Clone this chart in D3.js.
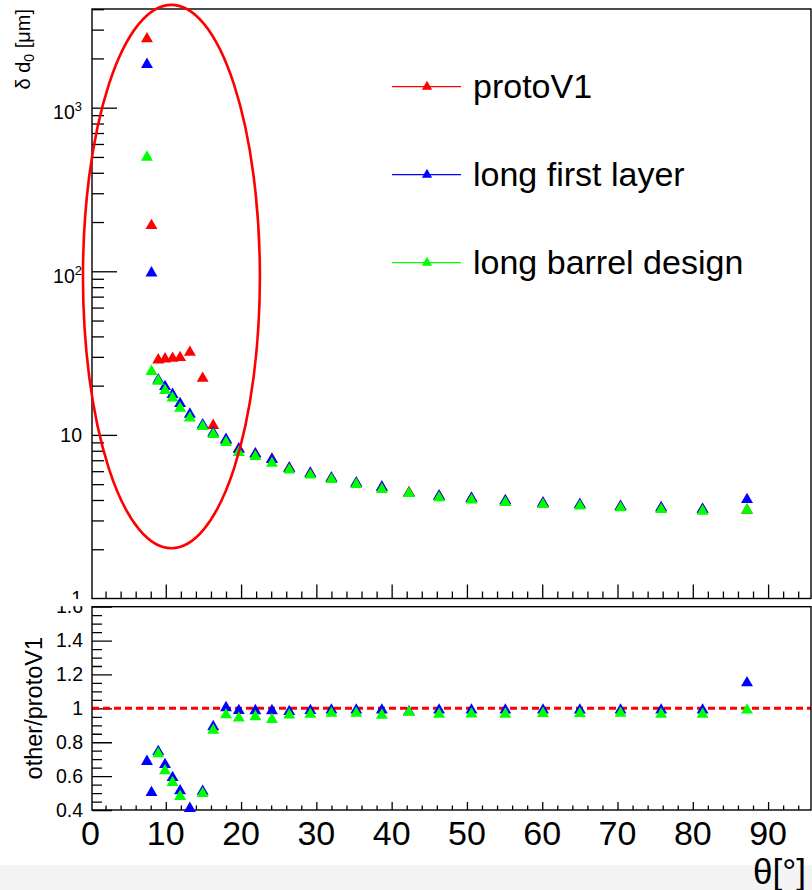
<!DOCTYPE html>
<html>
<head>
<meta charset="utf-8">
<script src="https://cdn.jsdelivr.net/npm/d3@7"></script>
<style>
  body { margin: 0; background: #fff; }
  svg { display: block; font-family: "Liberation Sans", Arial, Helvetica, sans-serif; }
</style>
</head>
<body>
<svg id="chart"></svg>
<script>
// theta bins [deg] and d0 resolution [um] per layout
const theta = [7.5, 8.1, 9.0, 9.9, 10.9, 11.9, 13.2, 14.9, 16.3, 18.0, 19.7, 21.9, 24.1, 26.4,
  29.2, 32.0, 35.3, 38.7, 42.3, 46.3, 50.6, 55.1, 60.1, 65.0, 70.4, 75.8, 81.3, 87.2];
const protoV1 = [2700, 195, 29.4, 29.8, 30.1, 30.4, 32.7, 22.7, 11.7, 9.47, 8.40, 7.85, 7.27, 6.44,
  5.97, 5.58, 5.20, 4.90, 4.55, 4.33, 4.19, 4.05, 3.92, 3.84, 3.74, 3.67, 3.59, 3.55];
const longFirstLayer = [1880, 100, 22.2, 20.2, 18.1, 15.9, 13.7, 11.8, 10.55, 9.6, 8.37, 7.82, 7.24, 6.38,
  5.95, 5.58, 5.20, 4.90, 4.50, 4.33, 4.19, 4.05, 3.92, 3.84, 3.74, 3.67, 3.59, 4.12];
const longBarrelDesign = [510, 25.0, 21.8, 19.1, 17.2, 14.9, 13.0, 11.5, 10.3, 9.2, 8.0, 7.54, 6.86, 6.25,
  5.82, 5.47, 5.10, 4.75, 4.49, 4.22, 4.09, 3.95, 3.84, 3.76, 3.67, 3.58, 3.50, 3.55];

const seriesNames = ["protoV1", "long first layer", "long barrel design"];
const colors = ["#ff0000", "#0000ff", "#00ff00"];

const thetaTicks = [0, 10, 20, 30, 40, 50, 60, 70, 80, 90];
const deltaTicks = [1, 10, 100, 1000];
const ratioTicks = [0.4, 0.6, 0.8, 1, 1.2, 1.4, 1.6];

// red ellipse drawn around the forward region (theta range, d0 range)
const circledTheta = [-1.0, 22.5];
const circledDelta = [2.03, 4250];

const wSvg = 812;
const hSvg = 890;
const frame = { left: 92, right: 811 };
const topPad = { top: 9, bottom: 598.5 };
const lowPad = { top: 606.7, bottom: 810 };

const svg = d3.select("#chart")
  .attr("width", wSvg)
  .attr("height", hSvg);

const defs = svg.append("defs");
defs.append("clipPath").attr("id", "clipTop")
  .append("rect").attr("x", 0).attr("y", 0).attr("width", wSvg).attr("height", topPad.bottom + 0.5);
defs.append("clipPath").attr("id", "clipLow")
  .append("rect").attr("x", 0).attr("y", lowPad.top - 0.5).attr("width", wSvg).attr("height", hSvg - lowPad.top);

// light strip at the bottom of the screenshot
svg.append("rect")
  .attr("x", 0).attr("y", 865).attr("width", wSvg).attr("height", hSvg - 865)
  .attr("fill", "#f4f4f4");

const x = d3.scaleLinear()
  .domain([0.2, 95.7])
  .range([frame.left, frame.right]);

const y = d3.scaleLog()
  .domain([1, 4010])
  .range([topPad.bottom, topPad.top]);

const yRatio = d3.scaleLinear()
  .domain([0.4, 1.6])
  .range([lowPad.bottom, lowPad.top]);

// minor tick values
let xMinor = d3.range(0, 96, 2).filter(v => v % 10 !== 0 && v >= 0.2);
let yMinor = [];
for (let dec of [1, 10, 100, 1000]) {
  for (let k = 2; k <= 9; k++) {
    if (k * dec <= 4010) yMinor.push(k * dec);
  }
}
let rMinor = d3.range(0, 25).map(i => 0.4 + i * 0.05).filter(v => Math.abs(v * 5 - Math.round(v * 5)) > 1e-6);

const gTop = svg.append("g").attr("clip-path", "url(#clipTop)");
const gLow = svg.append("g").attr("clip-path", "url(#clipLow)");

function addAxis(parent, axis, ticks, size, fmt, pad) {
  let g = parent.append("g")
    .attr("color", "#000")
    .call(axis.tickValues(ticks).tickSize(size).tickPadding(pad).tickFormat(fmt));
  g.attr("font-family", null);
  g.select(".domain").remove();
  g.selectAll(".tick line").attr("stroke-width", 1.3);
  return g;
}

// ---- top pad axes
let gx1 = addAxis(gTop, d3.axisBottom(x), thetaTicks.filter(v => v >= 0.2), -14, () => "", 0);
gx1.attr("transform", `translate(0, ${topPad.bottom})`);
let gx1m = addAxis(gTop, d3.axisBottom(x), xMinor, -7, () => "", 0);
gx1m.attr("transform", `translate(0, ${topPad.bottom})`);

let gy1 = addAxis(gTop, d3.axisLeft(y), deltaTicks, -25, d => d, 10);
gy1.attr("transform", `translate(${frame.left}, 0)`).attr("font-size", 19.5);
gy1.selectAll(".tick text").each(function(d) {
  let t = d3.select(this);
  let e = Math.round(Math.log10(d));
  if (e >= 2) {
    t.text("10").attr("dy", "0.55em");
    t.append("tspan").attr("dy", "-0.6em").attr("font-size", 13).text(e);
  }
});
let gy1m = addAxis(gTop, d3.axisLeft(y), yMinor, -12, () => "", 0);
gy1m.attr("transform", `translate(${frame.left}, 0)`);

// ---- lower pad axes
let gx2 = addAxis(gLow, d3.axisBottom(x), thetaTicks.filter(v => v >= 0.2), -8, () => "", 0);
gx2.attr("transform", `translate(0, ${lowPad.bottom})`);
let gx2lab = svg.append("g")
  .attr("transform", `translate(0, ${lowPad.bottom})`)
  .attr("font-size", 34)
  .attr("text-anchor", "middle");
gx2lab.selectAll("text")
  .data(thetaTicks)
  .enter()
  .append("text")
  .attr("x", d => x(d))
  .attr("y", 10.5)
  .attr("dy", "0.71em")
  .text(d => d);
let gx2m = addAxis(gLow, d3.axisBottom(x), xMinor, -4.5, () => "", 0);
gx2m.attr("transform", `translate(0, ${lowPad.bottom})`);

let gy2 = addAxis(gLow, d3.axisLeft(yRatio), ratioTicks, -20, d => d, 9);
gy2.attr("transform", `translate(${frame.left}, 0)`).attr("font-size", 19.5);
let gy2m = addAxis(gLow, d3.axisLeft(yRatio), rMinor, -10, () => "", 0);
gy2m.attr("transform", `translate(${frame.left}, 0)`);

// frames
svg.append("rect")
  .attr("x", frame.left).attr("y", topPad.top)
  .attr("width", frame.right - frame.left).attr("height", topPad.bottom - topPad.top)
  .attr("fill", "none").attr("stroke", "#000").attr("stroke-width", 1.4);
svg.append("rect")
  .attr("x", frame.left).attr("y", lowPad.top)
  .attr("width", frame.right - frame.left).attr("height", lowPad.bottom - lowPad.top)
  .attr("fill", "none").attr("stroke", "#000").attr("stroke-width", 1.4);

// axis titles
svg.append("text")
  .attr("transform", "translate(30, 9) rotate(-90)")
  .attr("text-anchor", "end")
  .attr("font-size", 20)
  .html('δ d<tspan font-size="14" dy="4">0</tspan><tspan dy="-4"> [μm]</tspan>');

svg.append("text")
  .attr("transform", "translate(42, 637) rotate(-90)")
  .attr("text-anchor", "end")
  .attr("font-size", 23.5)
  .text("other/protoV1");

svg.append("text")
  .attr("x", 806)
  .attr("y", 884)
  .attr("text-anchor", "end")
  .attr("font-size", 35)
  .text("θ[°]");

// ---- ratio reference line
gLow.append("line")
  .attr("x1", x(0.2)).attr("x2", x(95.7))
  .attr("y1", yRatio(1)).attr("y2", yRatio(1))
  .attr("stroke", "#ff0000")
  .attr("stroke-width", 3)
  .attr("stroke-dasharray", "7,4");

// ---- markers
const tri = d3.symbol().type(d3.symbolTriangle).size(62);
const seriesValues = [protoV1, longFirstLayer, longBarrelDesign];

seriesValues.forEach((vals, s) => {
  let pts = theta.map((t, i) => ({ t: t, v: vals[i] }));
  svg.append("g")
    .selectAll("path")
    .data(pts)
    .enter()
    .append("path")
    .attr("d", tri)
    .attr("transform", d => `translate(${x(d.t)}, ${y(d.v) + 1.7})`)
    .attr("fill", colors[s]);
});

// other / protoV1
[longFirstLayer, longBarrelDesign].forEach((vals, s) => {
  let pts = theta.map((t, i) => ({ t: t, r: vals[i] / protoV1[i] }))
    .filter(d => d.r >= 0.4 && d.r <= 1.6);
  svg.append("g")
    .selectAll("path")
    .data(pts)
    .enter()
    .append("path")
    .attr("d", tri)
    .attr("transform", d => `translate(${x(d.t)}, ${yRatio(d.r) + 1.7})`)
    .attr("fill", colors[s + 1]);
});

// ---- red ellipse annotation
let ey0 = y(circledDelta[1]);
let ey1 = y(circledDelta[0]);
svg.append("ellipse")
  .attr("cx", (x(circledTheta[0]) + x(circledTheta[1])) / 2)
  .attr("cy", (ey0 + ey1) / 2)
  .attr("rx", (x(circledTheta[1]) - x(circledTheta[0])) / 2)
  .attr("ry", (ey1 - ey0) / 2)
  .attr("fill", "none")
  .attr("stroke", "#ff0000")
  .attr("stroke-width", 2.6);

// ---- legend
const legendX = 392;
const legendY = 86.7;
const legendStep = 88;

let legend = svg.append("g")
  .selectAll("g")
  .data(seriesNames)
  .enter()
  .append("g")
  .attr("transform", (d, i) => `translate(${legendX}, ${legendY + i * legendStep})`);

legend.append("line")
  .attr("x1", 0).attr("x2", 69)
  .attr("stroke", (d, i) => colors[i])
  .attr("stroke-width", 1.3);
legend.append("path")
  .attr("d", d3.symbol().type(d3.symbolTriangle).size(45))
  .attr("transform", "translate(35, 0)")
  .attr("fill", (d, i) => colors[i]);
legend.append("text")
  .attr("x", 81)
  .attr("y", 11)
  .attr("font-size", 34)
  .text(d => d);
</script>
</body>
</html>
